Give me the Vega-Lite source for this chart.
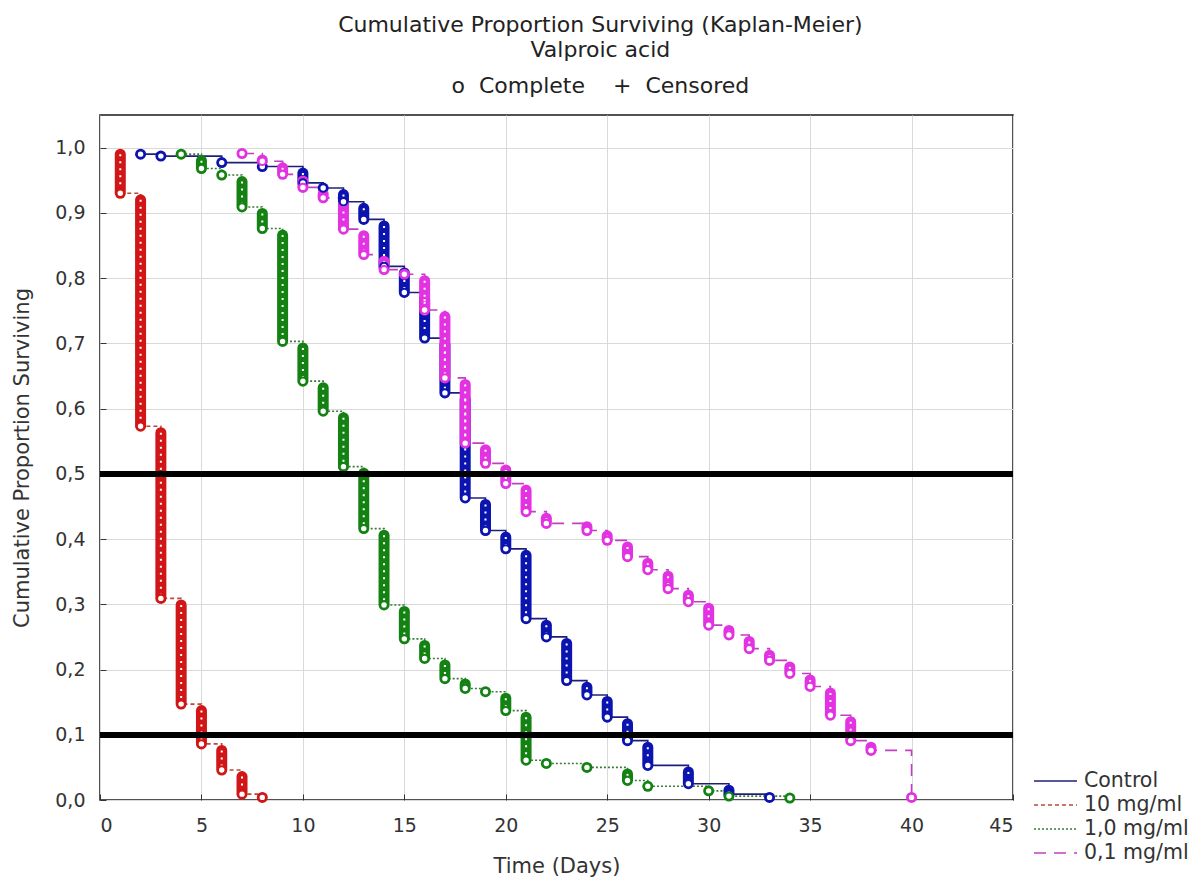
{
  "$schema": "https://vega.github.io/schema/vega-lite/v6.json",
  "width": 913,
  "height": 685,
  "autosize": "none",
  "padding": {"left": 100, "top": 115, "right": 188, "bottom": 85},
  "background": "white",
  "config": {
    "font": "DejaVu Sans",
    "view": {"stroke": "#1a1a1a", "strokeWidth": 1.5},
    "axis": {
      "labelFont": "DejaVu Sans", "titleFont": "DejaVu Sans",
      "labelFontSize": 19, "titleFontSize": 21,
      "labelColor": "#333", "titleColor": "#333", "titleFontWeight": "normal",
      "gridColor": "#d9d9d9", "gridWidth": 1, "domain": false,
      "tickColor": "#333", "tickSize": -6
    },
    "legend": {
      "title": null, "orient": "none", "legendX": 933, "legendY": 656,
      "symbolType": "stroke", "symbolSize": 1850, "symbolStrokeWidth": 1.6,
      "labelFontSize": 20.5, "labelFont": "DejaVu Sans", "labelColor": "#333",
      "rowPadding": 3, "labelOffset": 6, "clipHeight": 20
    }
  },
  "title": {
    "text": ["Cumulative Proportion Surviving (Kaplan-Meier)", "Valproic acid"],
    "subtitle": "o\u00a0\u00a0Complete\u00a0\u00a0\u00a0\u00a0+\u00a0\u00a0Censored",
    "anchor": "middle", "frame": "bounds",
    "font": "DejaVu Sans", "subtitleFont": "DejaVu Sans",
    "fontSize": 22, "fontWeight": "normal", "color": "#222", "lineHeight": 25,
    "subtitleFontSize": 22, "subtitleColor": "#222", "subtitlePadding": 14, "offset": 17
  },
  "data": {"values": [
    {"g": "Control", "t": 2, "c": 0.99, "s": 0.99},
    {"g": "Control", "t": 3, "c": 0.987, "s": 0.987},
    {"g": "Control", "t": 6, "c": 0.977, "s": 0.977},
    {"g": "Control", "t": 8, "c": 0.971, "s": 0.971},
    {"g": "Control", "t": 10, "c": 0.961, "s": 0.946},
    {"g": "Control", "t": 11, "c": 0.938, "s": 0.938},
    {"g": "Control", "t": 12, "c": 0.928, "s": 0.917},
    {"g": "Control", "t": 13, "c": 0.907, "s": 0.89},
    {"g": "Control", "t": 14, "c": 0.88, "s": 0.818},
    {"g": "Control", "t": 15, "c": 0.808, "s": 0.778},
    {"g": "Control", "t": 16, "c": 0.768, "s": 0.708},
    {"g": "Control", "t": 17, "c": 0.698, "s": 0.624},
    {"g": "Control", "t": 18, "c": 0.614, "s": 0.463},
    {"g": "Control", "t": 19, "c": 0.453, "s": 0.413},
    {"g": "Control", "t": 20, "c": 0.403, "s": 0.385},
    {"g": "Control", "t": 21, "c": 0.375, "s": 0.278},
    {"g": "Control", "t": 22, "c": 0.268, "s": 0.25},
    {"g": "Control", "t": 23, "c": 0.24, "s": 0.183},
    {"g": "Control", "t": 24, "c": 0.173, "s": 0.161},
    {"g": "Control", "t": 25, "c": 0.151, "s": 0.127},
    {"g": "Control", "t": 26, "c": 0.117, "s": 0.091},
    {"g": "Control", "t": 27, "c": 0.081, "s": 0.053},
    {"g": "Control", "t": 29, "c": 0.043, "s": 0.025},
    {"g": "Control", "t": 31, "c": 0.015, "s": 0.009},
    {"g": "Control", "t": 33, "c": 0.004, "s": 0.004},
    {"g": "10 mg/ml", "t": 1, "c": 0.99, "s": 0.93},
    {"g": "10 mg/ml", "t": 2, "c": 0.92, "s": 0.573},
    {"g": "10 mg/ml", "t": 3, "c": 0.563, "s": 0.309},
    {"g": "10 mg/ml", "t": 4, "c": 0.299, "s": 0.147},
    {"g": "10 mg/ml", "t": 5, "c": 0.137, "s": 0.086},
    {"g": "10 mg/ml", "t": 6, "c": 0.076, "s": 0.046},
    {"g": "10 mg/ml", "t": 7, "c": 0.036, "s": 0.009},
    {"g": "10 mg/ml", "t": 8, "c": 0.004, "s": 0.004},
    {"g": "1,0 mg/ml", "t": 4, "c": 0.99, "s": 0.99},
    {"g": "1,0 mg/ml", "t": 5, "c": 0.98, "s": 0.968},
    {"g": "1,0 mg/ml", "t": 6, "c": 0.958, "s": 0.958},
    {"g": "1,0 mg/ml", "t": 7, "c": 0.948, "s": 0.909},
    {"g": "1,0 mg/ml", "t": 8, "c": 0.899, "s": 0.876},
    {"g": "1,0 mg/ml", "t": 9, "c": 0.866, "s": 0.703},
    {"g": "1,0 mg/ml", "t": 10, "c": 0.693, "s": 0.642},
    {"g": "1,0 mg/ml", "t": 11, "c": 0.632, "s": 0.596},
    {"g": "1,0 mg/ml", "t": 12, "c": 0.586, "s": 0.511},
    {"g": "1,0 mg/ml", "t": 13, "c": 0.501, "s": 0.416},
    {"g": "1,0 mg/ml", "t": 14, "c": 0.406, "s": 0.299},
    {"g": "1,0 mg/ml", "t": 15, "c": 0.289, "s": 0.247},
    {"g": "1,0 mg/ml", "t": 16, "c": 0.237, "s": 0.217},
    {"g": "1,0 mg/ml", "t": 17, "c": 0.207, "s": 0.186},
    {"g": "1,0 mg/ml", "t": 18, "c": 0.178, "s": 0.171},
    {"g": "1,0 mg/ml", "t": 19, "c": 0.166, "s": 0.166},
    {"g": "1,0 mg/ml", "t": 20, "c": 0.156, "s": 0.137},
    {"g": "1,0 mg/ml", "t": 21, "c": 0.127, "s": 0.061},
    {"g": "1,0 mg/ml", "t": 22, "c": 0.056, "s": 0.056},
    {"g": "1,0 mg/ml", "t": 24, "c": 0.05, "s": 0.05},
    {"g": "1,0 mg/ml", "t": 26, "c": 0.04, "s": 0.03},
    {"g": "1,0 mg/ml", "t": 27, "c": 0.021, "s": 0.021},
    {"g": "1,0 mg/ml", "t": 30, "c": 0.014, "s": 0.014},
    {"g": "1,0 mg/ml", "t": 31, "c": 0.006, "s": 0.006},
    {"g": "1,0 mg/ml", "t": 34, "c": 0.003, "s": 0.003},
    {"g": "0,1 mg/ml", "t": 7, "c": 0.991, "s": 0.991},
    {"g": "0,1 mg/ml", "t": 8, "c": 0.981, "s": 0.979},
    {"g": "0,1 mg/ml", "t": 9, "c": 0.969, "s": 0.959},
    {"g": "0,1 mg/ml", "t": 10, "c": 0.949, "s": 0.939},
    {"g": "0,1 mg/ml", "t": 11, "c": 0.929, "s": 0.923},
    {"g": "0,1 mg/ml", "t": 12, "c": 0.913, "s": 0.875},
    {"g": "0,1 mg/ml", "t": 13, "c": 0.865, "s": 0.836},
    {"g": "0,1 mg/ml", "t": 14, "c": 0.826, "s": 0.813},
    {"g": "0,1 mg/ml", "t": 15, "c": 0.806, "s": 0.806},
    {"g": "0,1 mg/ml", "t": 16, "c": 0.796, "s": 0.751},
    {"g": "0,1 mg/ml", "t": 17, "c": 0.741, "s": 0.647},
    {"g": "0,1 mg/ml", "t": 18, "c": 0.637, "s": 0.547},
    {"g": "0,1 mg/ml", "t": 19, "c": 0.537, "s": 0.516},
    {"g": "0,1 mg/ml", "t": 20, "c": 0.506, "s": 0.485},
    {"g": "0,1 mg/ml", "t": 21, "c": 0.475, "s": 0.442},
    {"g": "0,1 mg/ml", "t": 22, "c": 0.432, "s": 0.424},
    {"g": "0,1 mg/ml", "t": 24, "c": 0.419, "s": 0.413},
    {"g": "0,1 mg/ml", "t": 25, "c": 0.405, "s": 0.398},
    {"g": "0,1 mg/ml", "t": 26, "c": 0.388, "s": 0.373},
    {"g": "0,1 mg/ml", "t": 27, "c": 0.363, "s": 0.353},
    {"g": "0,1 mg/ml", "t": 28, "c": 0.343, "s": 0.324},
    {"g": "0,1 mg/ml", "t": 29, "c": 0.314, "s": 0.304},
    {"g": "0,1 mg/ml", "t": 30, "c": 0.294, "s": 0.268},
    {"g": "0,1 mg/ml", "t": 31, "c": 0.26, "s": 0.253},
    {"g": "0,1 mg/ml", "t": 32, "c": 0.243, "s": 0.232},
    {"g": "0,1 mg/ml", "t": 33, "c": 0.222, "s": 0.214},
    {"g": "0,1 mg/ml", "t": 34, "c": 0.204, "s": 0.194},
    {"g": "0,1 mg/ml", "t": 35, "c": 0.184, "s": 0.174},
    {"g": "0,1 mg/ml", "t": 36, "c": 0.164, "s": 0.13},
    {"g": "0,1 mg/ml", "t": 37, "c": 0.12, "s": 0.091},
    {"g": "0,1 mg/ml", "t": 38, "c": 0.081, "s": 0.076},
    {"g": "0,1 mg/ml", "t": 40, "c": 0.004, "s": 0.004}
  ]},
  "layer": [
    {
      "mark": {"type": "line", "interpolate": "step-after", "strokeWidth": 1.6},
      "encoding": {
        "x": {"field": "t", "type": "quantitative",
          "scale": {"domain": [0, 45], "nice": false, "zero": false},
          "axis": {"title": "Time (Days)", "values": [0, 5, 10, 15, 20, 25, 30, 35, 40, 45], "format": "d", "labelPadding": 22, "titlePadding": 20}},
        "y": {"field": "s", "type": "quantitative",
          "scale": {"domain": [0, 1.05], "nice": false},
          "axis": {"title": "Cumulative Proportion Surviving", "values": [0, 0.1, 0.2, 0.3, 0.4, 0.5, 0.6, 0.7, 0.8, 0.9, 1.0],
            "labelExpr": "replace(format(datum.value, '.1f'), '.', ',')", "labelPadding": 21, "titlePadding": 22}},
        "stroke": {"field": "g", "type": "nominal",
          "scale": {"domain": ["Control", "10 mg/ml", "1,0 mg/ml", "0,1 mg/ml"], "range": ["#1f1f78", "#b84a3a", "#3a7a3a", "#c040c0"]},
          "legend": {}},
        "strokeDash": {"field": "g", "type": "nominal",
          "scale": {"domain": ["Control", "10 mg/ml", "1,0 mg/ml", "0,1 mg/ml"], "range": [[1, 0], [4, 3], [2, 2], [12, 8]]},
          "legend": {}}
      }
    },
    {
      "mark": {"type": "rule", "strokeWidth": 11, "strokeCap": "round"},
      "encoding": {
        "x": {"field": "t", "type": "quantitative"},
        "y": {"field": "c", "type": "quantitative"},
        "y2": {"field": "s"},
        "color": {"field": "g", "type": "nominal",
          "scale": {"domain": ["Control", "10 mg/ml", "1,0 mg/ml", "0,1 mg/ml"], "range": ["#0c14b0", "#d01616", "#138213", "#e232e2"]},
          "legend": null}
      }
    },
    {
      "mark": {"type": "rule", "strokeWidth": 2, "color": "white", "strokeDash": [2, 5]},
      "encoding": {
        "x": {"field": "t", "type": "quantitative"},
        "y": {"field": "c", "type": "quantitative"},
        "y2": {"field": "s"}
      }
    },
    {
      "mark": {"type": "point", "shape": "circle", "filled": false, "fill": "white", "fillOpacity": 1, "size": 55, "strokeWidth": 2, "opacity": 1},
      "encoding": {
        "x": {"field": "t", "type": "quantitative"},
        "y": {"field": "s", "type": "quantitative"},
        "color": {"field": "g", "type": "nominal", "legend": null}
      }
    },
    {
      "mark": {"type": "rule", "color": "black", "strokeWidth": 5},
      "encoding": {"y": {"datum": 0.5}}
    },
    {
      "mark": {"type": "rule", "color": "black", "strokeWidth": 5},
      "encoding": {"y": {"datum": 0.1}}
    }
  ]
}
